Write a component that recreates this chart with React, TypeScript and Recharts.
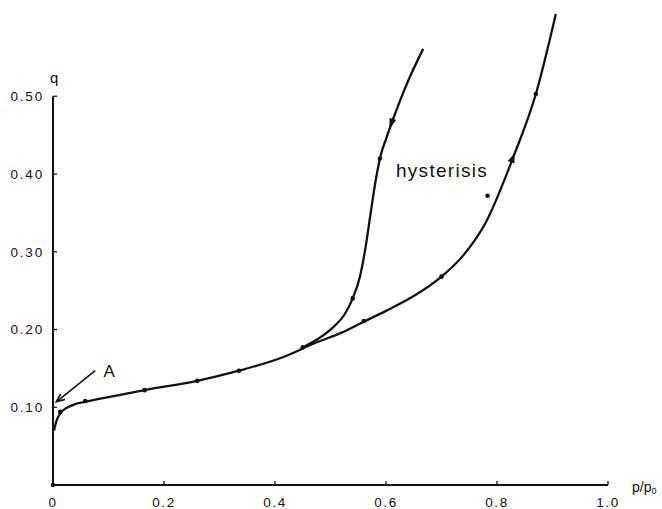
import React from 'react';
import {
  ComposedChart,
  Line,
  Scatter,
  XAxis,
  YAxis,
  ReferenceLine,
  ReferenceDot,
} from 'recharts';

// adsorption branch (lower curve, continues up to saturation)
const ADS_P = [0.002, 0.006, 0.013, 0.024, 0.04, 0.058, 0.1, 0.165, 0.26, 0.335, 0.42, 0.47, 0.52, 0.56, 0.6, 0.65, 0.7, 0.74, 0.78, 0.83, 0.87, 0.906];
const ADS_Q = [0.07, 0.082, 0.092, 0.099, 0.104, 0.107, 0.113, 0.122, 0.134, 0.147, 0.166, 0.182, 0.196, 0.21, 0.224, 0.243, 0.268, 0.296, 0.338, 0.423, 0.503, 0.606];

// desorption branch (upper curve of the loop)
const DES_P = [0.45, 0.48, 0.505, 0.525, 0.54, 0.553, 0.563, 0.572, 0.581, 0.59, 0.6, 0.615, 0.64, 0.667];
const DES_Q = [0.177, 0.189, 0.203, 0.219, 0.24, 0.268, 0.305, 0.348, 0.39, 0.423, 0.445, 0.475, 0.52, 0.561];

// measured points
const PTS_P = [0, 0.013, 0.058, 0.165, 0.26, 0.335, 0.45, 0.56, 0.7, 0.783, 0.87, 0.54, 0.589];
const PTS_Q = [0, 0.094, 0.108, 0.122, 0.134, 0.147, 0.177, 0.211, 0.268, 0.372, 0.503, 0.24, 0.42];

// direction arrows on each branch
const UP_P = [0.828];
const UP_Q = [0.42];
const DOWN_P = [0.61];
const DOWN_Q = [0.466];

const X_TICKS = [0, 0.2, 0.4, 0.6, 0.8, 1.0];
const Y_TICKS = [0.1, 0.2, 0.3, 0.4, 0.5];

const zip = (ps: number[], qs: number[]) => ps.map((p, i) => ({ p, q: qs[i] }));

const ads = zip(ADS_P, ADS_Q);
const des = zip(DES_P, DES_Q);
const pts = zip(PTS_P, PTS_Q);
const up = zip(UP_P, UP_Q);
const down = zip(DOWN_P, DOWN_Q);

const INK = '#111';
const FONT = '"Liberation Sans", Arial, sans-serif';
const X_GAP = 12;
const Y_GAP = 9;

const dotShape = (props: any) => <circle cx={props.cx} cy={props.cy} r={2.3} fill={INK} />;

// filled arrowhead; angle in degrees, 0 = pointing up
const arrowShape = (angle: number) => (props: any) => (
  <polygon
    points="0,-6 -3.5,4 3.5,4"
    fill={INK}
    transform={`translate(${props.cx},${props.cy}) rotate(${angle})`}
  />
);

const pointerShape = (props: any) => {
  const { x1, y1, x2, y2 } = props;
  const a = Math.atan2(y2 - y1, x2 - x1);
  const len = 9;
  const spread = 0.4;
  const hx1 = x2 - len * Math.cos(a - spread);
  const hy1 = y2 - len * Math.sin(a - spread);
  const hx2 = x2 - len * Math.cos(a + spread);
  const hy2 = y2 - len * Math.sin(a + spread);
  return (
    <g stroke={INK} strokeWidth={1.6} fill="none">
      <line x1={x1} y1={y1} x2={x2} y2={y2} />
      <polyline points={`${hx1},${hy1} ${x2},${y2} ${hx2},${hy2}`} />
    </g>
  );
};

// inward tick marks with the label outside the axis
const XTick = (props: any) => {
  const { x, y, payload } = props;
  const v = payload.value as number;
  const ay = y - X_GAP;
  return (
    <g>
      {v > 0 && <line x1={x} x2={x} y1={ay} y2={ay - 4} stroke={INK} strokeWidth={1.3} />}
      <text x={x} y={y} dy="0.71em" textAnchor="middle" fontSize={13.5} letterSpacing={1.6} fill={INK} fontFamily={FONT}>
        {v === 0 ? '0' : v.toFixed(1)}
      </text>
    </g>
  );
};

const YTick = (props: any) => {
  const { x, y, payload } = props;
  const v = payload.value as number;
  const ax = x + Y_GAP;
  return (
    <g>
      <line x1={ax} x2={ax + 4} y1={y} y2={y} stroke={INK} strokeWidth={1.3} />
      <text x={x} y={y} dy="0.355em" textAnchor="end" fontSize={13.5} letterSpacing={1.8} fill={INK} fontFamily={FONT}>
        {v.toFixed(2)}
      </text>
    </g>
  );
};

const ppLabel = (props: any) => {
  const vb = props.viewBox;
  return (
    <text x={vb.x + vb.width + 24} y={vb.y + 7} fontSize={14} fill={INK} fontFamily={FONT}>
      p/p
      <tspan fontSize={9} dy={2}>0</tspan>
    </text>
  );
};

export default function App() {
  return (
    <div style={{ position: 'absolute', left: 0, top: 0, background: '#fff' }}>
      <ComposedChart width={662} height={509} margin={{ top: 3, right: 54, bottom: 0, left: 3 }}>
        <XAxis
          type="number"
          dataKey="p"
          domain={[0, 1]}
          ticks={X_TICKS}
          height={24}
          tickSize={0}
          tickMargin={X_GAP}
          axisLine={{ stroke: INK, strokeWidth: 2 }}
          tickLine={false}
          tick={<XTick />}
          label={{ content: ppLabel }}
        />
        <YAxis
          type="number"
          dataKey="q"
          domain={[0, 0.62]}
          ticks={Y_TICKS}
          width={50}
          tickSize={0}
          tickMargin={Y_GAP}
          axisLine={false}
          tickLine={false}
          tick={<YTick />}
        />
        <ReferenceLine segment={[{ x: 0, y: 0 }, { x: 0, y: 0.5 }]} stroke={INK} strokeWidth={2} />
        <Line data={ads} dataKey="q" type="monotone" stroke={INK} strokeWidth={2.3} dot={false} isAnimationActive={false} />
        <Line data={des} dataKey="q" type="monotone" stroke={INK} strokeWidth={2.3} dot={false} isAnimationActive={false} />
        <Scatter data={pts} dataKey="q" shape={dotShape} isAnimationActive={false} />
        <Scatter data={up} dataKey="q" shape={arrowShape(22)} isAnimationActive={false} />
        <Scatter data={down} dataKey="q" shape={arrowShape(199)} isAnimationActive={false} />
        <ReferenceLine segment={[{ x: 0.076, y: 0.147 }, { x: 0.006, y: 0.107 }]} shape={pointerShape} />
        <ReferenceDot x={0.101} y={0.147} r={0} fill="none" stroke="none"
          label={{ value: 'A', position: 'center', fontSize: 17, fill: INK, fontFamily: FONT }} />
        <ReferenceDot x={0.002} y={0.524} r={0} fill="none" stroke="none"
          label={{ value: 'q', position: 'center', fontSize: 15, fill: INK, fontFamily: FONT }} />
        <ReferenceDot x={0.701} y={0.405} r={0} fill="none" stroke="none"
          label={{ value: 'hysterisis', position: 'center', fontSize: 19, letterSpacing: 1.3, fill: INK, fontFamily: FONT }} />
      </ComposedChart>
    </div>
  );
}
